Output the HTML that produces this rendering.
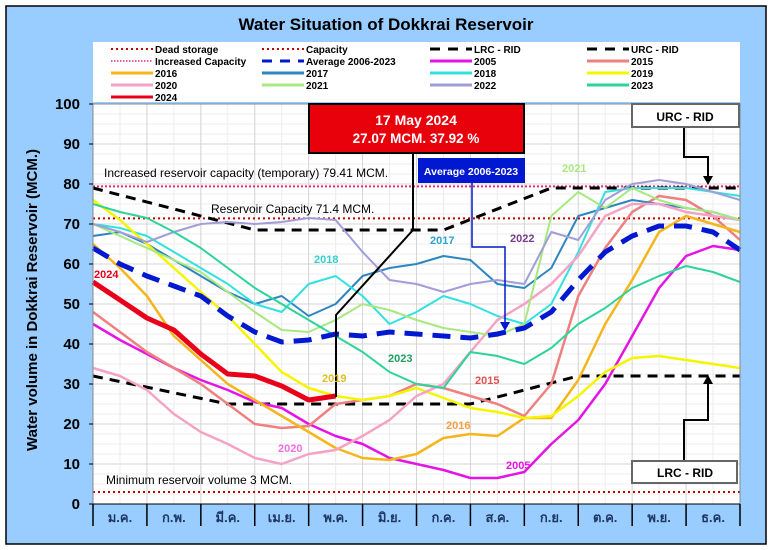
<!DOCTYPE html>
<html><head><meta charset="utf-8">
<style>
html,body{margin:0;padding:0;background:#fff;}
svg{display:block;font-family:"Liberation Sans","Noto Sans CJK SC",sans-serif;}
</style></head>
<body>
<svg id="chart" width="772" height="550" viewBox="0 0 772 550">
<rect x="6" y="6" width="760" height="538" fill="#99CCFF" stroke="#000" stroke-width="1.5"/>
<text x="386" y="30" text-anchor="middle" font-size="17" font-weight="bold" fill="#000">Water Situation of Dokkrai Reservoir</text>
<rect x="93" y="104" width="647" height="400" fill="#fff"/>
<g id="grid"></g>
<g id="refs"></g>
<g id="series"></g>
<g id="axes"></g>
<g id="legend"></g>
<g id="annot"></g>
<text transform="translate(37,300) rotate(-90)" text-anchor="middle" font-size="15" font-weight="bold" fill="#000">Water volume in Dokkrai Reservoir (MCM.)</text>
</svg>
<script>
const months = ["ม.ค.","ก.พ.","มี.ค.","เม.ย.","พ.ค.","มิ.ย.","ก.ค.","ส.ค.","ก.ย.","ต.ค.","พ.ย.","ธ.ค."];
const yTicks = [0,10,20,30,40,50,60,70,80,90,100];
const xSteps = [0,0.5,1,1.5,2,2.5,3,3.5,4,4.5,5,5.5,6,6.5,7,7.5,8,8.5,9,9.5,10,10.5,11,11.5,12];
const avg  = [64,60,57,54.5,52,47,43,40.5,41,42.5,42,43,42.5,42,41.5,42.5,44,48,56,63,67,69.5,69.5,68,63.5];
const y2005 = [45,41,37.5,34,31,28.5,25.5,24,20,17,15,11.5,10,8.5,6.5,6.5,8,15,21,30,42,54,62,64.5,63.5];
const y2015 = [48,43,38,34,30,25,20,19,19.5,25,26,27,30,29,27,25,22,30,52,64,73,77,76,72,66];
const y2016 = [65,59,52,42,36,30,26,22,18,14,11.5,11,12.5,16.5,17.5,17,21.5,21.5,31,45,56,68,72,70,68];
const y2017 = [67,68,65,61,57,53,50,52,47,50,57,59,60,62,61,55,54,59,72,74,76,75,74,73,71];
const y2018 = [70,69,67,63,59,55,50,48,55,57,52,45,48,52,50,47,45,50,63,78,79,79,79,78,77];
const y2019 = [76,71,65,59,53,47,40,33,29,27,26,27,29,26.5,24,23,21.5,22,27,33,36.5,37,36,35,34];
const y2020 = [34,32,28.5,22.5,18,15,11.5,10,12.5,13.5,17,21,27,30,38,46,50,55,62,72,75,75,73,72,71];
const y2021 = [70,67,64,61,58,53,48,43.5,43,46,50,48.5,46,44,43,42,45,72,78,74,79,76,74,73,71];
const y2022 = [70,68,65.5,68,70,70.5,70,70.5,71.5,71,63,56,55,53,55,56,55,68,66,76,80,81,80,78,76];
const y2023 = [75,73,71.5,68,64,59,54,50,46,42,38,33,30,29,38,37,35,39,45,49,54,57,59.5,58,55.5];
const y2024 = [55.5,51,46.5,43.5,37.5,32.5,32,29.5,26,27,null,null,null,null,null,null,null,null,null,null,null,null,null,null,null];
const urcX = [0,3,6.5,8.5,12];
const urcV = [79,68.5,68.5,79,79];
const lrcX = [0,2.5,7,9,12];
const lrcV = [32,25,25,32,32];
const deadStorage = 3, capacity = 71.4, increased = 79.41;

const NS="http://www.w3.org/2000/svg";
const X0=93,X1=740,Y0=504,Y1=104;
const xs = m => X0 + m*(X1-X0)/12;
const ys = v => Y0 - v*(Y0-Y1)/100;
function mk(tag, attrs, parent){const e=document.createElementNS(NS,tag);for(const k in attrs)e.setAttribute(k,attrs[k]);parent.appendChild(e);return e;}

const grid=document.getElementById('grid');
for(let v=0;v<=100;v+=2.5){
  const l=mk('line',{x1:X0,x2:X1,y1:ys(v),y2:ys(v),stroke:(v%10===0)?'#d4d4d4':'#ececec','stroke-width':1},grid);
  
  
}
for(let m=0;m<=12;m+=0.5){
  const l=mk('line',{x1:xs(m),x2:xs(m),y1:Y1,y2:Y0,stroke:(m%1===0)?'#d4d4d4':'#ececec','stroke-width':1},grid);
  
  
}

const refs=document.getElementById('refs');
[[increased,'#dd2a7a','2,2','increased-capacity-line'],[capacity,'#c00000','2,3','capacity-line'],[deadStorage,'#c00000','2,3','dead-storage-line']].forEach(r=>{
  const l=mk('line',{x1:X0,x2:X1,y1:ys(r[0]),y2:ys(r[0]),stroke:r[1],'stroke-width':2,'stroke-dasharray':r[2]},refs);
  
  
});
function pathFrom(xarr, varr){let d='';let pen=false;for(let i=0;i<xarr.length;i++){if(varr[i]==null){pen=false;continue;}d+=(pen?'L':'M')+xs(xarr[i]).toFixed(1)+','+ys(varr[i]).toFixed(1);pen=true;}return d;}
const urc=mk('path',{d:pathFrom(urcX,urcV),fill:'none',stroke:'#000','stroke-width':3,'stroke-dasharray':'10,7'},refs);


const lrc=mk('path',{d:pathFrom(lrcX,lrcV),fill:'none',stroke:'#000','stroke-width':3,'stroke-dasharray':'10,7'},refs);



const seriesG=document.getElementById('series');
const seriesList=[
 ['2005',y2005,'#E415E4',2.5],['2015',y2015,'#EE8080',2.5],['2016',y2016,'#F5B51B',2.5],['2017',y2017,'#2E86C1',2],
 ['2018',y2018,'#33E0E0',2],['2019',y2019,'#F5F500',2.5],['2020',y2020,'#F4A3C4',2.5],['2021',y2021,'#A8E880',2],
 ['2022',y2022,'#A09ED8',2],['2023',y2023,'#2ED39A',2]
];
seriesList.forEach(s=>{
  const p=mk('path',{d:pathFrom(xSteps,s[1]),fill:'none',stroke:s[2],'stroke-width':s[3],'stroke-linejoin':'round'},seriesG);
  
  
});
const avgP=mk('path',{d:pathFrom(xSteps,avg),fill:'none',stroke:'#0018D0','stroke-width':5,'stroke-dasharray':'18,10'},seriesG);


const p24=mk('path',{d:pathFrom(xSteps,y2024),fill:'none',stroke:'#E8001A','stroke-width':5,'stroke-linejoin':'round'},seriesG);



const axes=document.getElementById('axes');
mk('rect',{x:X0,y:Y1,width:X1-X0,height:Y0-Y1,fill:'none',stroke:'#888','stroke-width':1},axes);
mk('line',{x1:X0,x2:X1,y1:Y0,y2:Y0,stroke:'#000','stroke-width':1},axes);
yTicks.forEach(v=>{
  const t=mk('text',{x:80,y:ys(v)+5,'text-anchor':'end','font-size':15,'font-weight':'bold',fill:'#000'},axes);
  t.textContent=v;
  
  
  mk('line',{x1:X0-4,x2:X0,y1:ys(v),y2:ys(v),stroke:'#000'},axes);
});
for(let m=0;m<=12;m++){mk('line',{x1:xs(m),x2:xs(m),y1:Y0,y2:Y0+22,stroke:'#000','stroke-width':1.5},axes);}
months.forEach((mn,i)=>{
  const t=mk('text',{x:xs(i+0.5),y:Y0+18,'text-anchor':'middle','font-size':13,'font-weight':'bold',fill:'#1F3864'},axes);
  t.textContent=mn;
  
  
});

const legend=document.getElementById('legend');
mk('rect',{x:93,y:42,width:647,height:60,fill:'#fff'},legend);
const legItems=[
 ['Dead storage','#c00000','dot'],['Capacity','#c00000','dot'],['LRC - RID','#000','dash'],['URC - RID','#000','dash'],
 ['Increased Capacity','#dd2a7a','fine'],['Average 2006-2023','#0018D0','dash'],['2005','#E415E4','line'],['2015','#EE8080','line'],
 ['2016','#F5B51B','line'],['2017','#2E86C1','line'],['2018','#33E0E0','line'],['2019','#F5F500','line'],
 ['2020','#F4A3C4','line'],['2021','#A8E880','line'],['2022','#A09ED8','line'],['2023','#2ED39A','line'],
 ['2024','#E8001A','line']
];
const colX=[111,262,430,587];
legItems.forEach((it,i)=>{
  const cx=colX[i%4], cy=49+Math.floor(i/4)*12;
  let attrs={x1:cx,x2:cx+42,y1:cy,y2:cy,stroke:it[1],'stroke-width':3};
  if(it[2]==='dot'){attrs['stroke-width']=2;attrs['stroke-dasharray']='2,3';}
  if(it[2]==='fine'){attrs['stroke-width']=1.5;attrs['stroke-dasharray']='1.5,1.5';}
  if(it[2]==='dash'){attrs['stroke-dasharray']='10,8';}
  const l=mk('line',attrs,legend);
  
  
  const t=mk('text',{x:cx+44,y:cy+4,'font-size':10,'font-weight':'bold',fill:'#000'},legend);
  t.textContent=it[0];
  
  
});

const an=document.getElementById('annot');
function txt(x,y,s,size,color,name,anchor){const t=mk('text',{x:x,y:y,'font-size':size,'font-weight':'bold',fill:color,'text-anchor':anchor||'start'},an);t.textContent=s;return t;}
txt(104,177,'Increased reservoir capacity (temporary) 79.41 MCM.',12,'#000','increased-capacity-label').setAttribute('font-weight','normal');
txt(211,213,'Reservoir Capacity 71.4 MCM.',12,'#000','capacity-label').setAttribute('font-weight','normal');
txt(106,484,'Minimum reservoir volume 3 MCM.',12,'#000','dead-storage-label').setAttribute('font-weight','normal');
mk('polyline',{points:'336,397 336,315 413,230 413,152',fill:'none',stroke:'#000','stroke-width':2},an);
const rb=mk('rect',{x:309,y:104,width:215,height:49,fill:'#E8000B',stroke:'#000','stroke-width':2},an);


txt(416,125,'17 May 2024',14,'#fff','current-date','middle');
txt(416,143,'27.07 MCM. 37.92 %',13.5,'#fff','current-volume','middle');
mk('polyline',{points:'472,183 472,247 505,247 505,325',fill:'none',stroke:'#0018D0','stroke-width':1.5},an);
mk('polygon',{points:'500,322 510,322 505,331',fill:'#0018D0'},an);
const ab=mk('rect',{x:418,y:158,width:107,height:25,fill:'#0018D0'},an);


txt(471,175,'Average 2006-2023',10.5,'#fff','average-label','middle');
mk('polyline',{points:'684,127 684,157 708,157 708,180',fill:'none',stroke:'#000','stroke-width':2},an);
mk('polygon',{points:'703,176 713,176 708,185',fill:'#000'},an);
const ub=mk('rect',{x:632,y:104,width:107,height:23,fill:'#fff',stroke:'#666','stroke-width':2},an);


txt(685,121,'URC - RID',12,'#000','urc-label','middle');
mk('polyline',{points:'684,461 684,420 708,420 708,380',fill:'none',stroke:'#000','stroke-width':2},an);
mk('polygon',{points:'703,384 713,384 708,375',fill:'#000'},an);
const lb=mk('rect',{x:632,y:461,width:105,height:22,fill:'#fff',stroke:'#666','stroke-width':2},an);


txt(685,477,'LRC - RID',12,'#000','lrc-label','middle');
[['2024',94,278,'#E8001A'],['2018',314,263,'#33D0D0'],['2017',430,244,'#2EA0D0'],['2022',510,242,'#7A3C8C'],
 ['2021',562,172,'#A8E880'],['2023',388,362,'#1E9E60'],['2019',322,382,'#E0C020'],['2015',475,384,'#E05050'],
 ['2016',446,429,'#F5A040'],['2020',278,452,'#F070E0'],['2005',506,469,'#E415E4']].forEach(l=>{
  txt(l[1],l[2],l[0],11,l[3],'series-label-'+l[0]);
});
</script>
</body></html>
